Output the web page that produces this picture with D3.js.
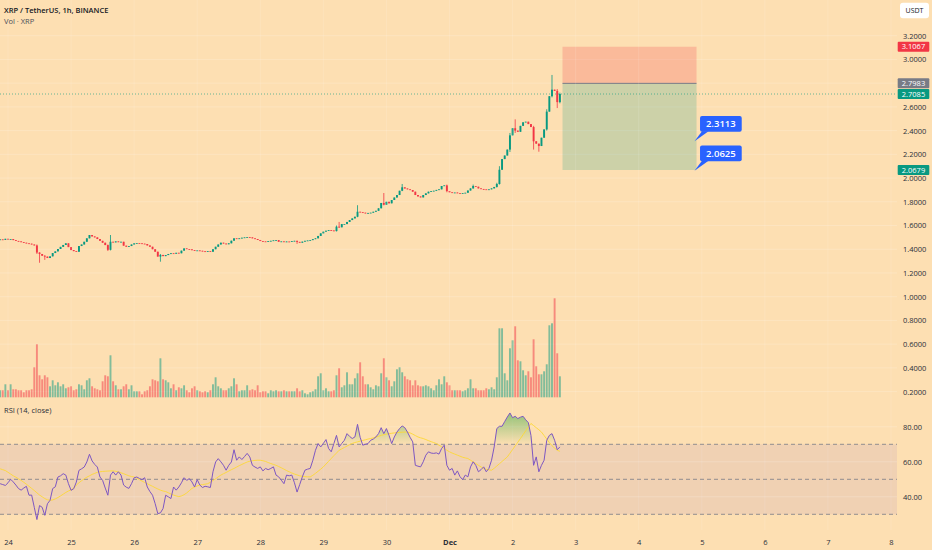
<!DOCTYPE html>
<html>
<head>
<meta charset="utf-8">
<script src="https://cdn.jsdelivr.net/npm/d3@7"></script>
<style>
body{margin:0;background:#fddfb2;}
svg{display:block;font-family:"Open Sans",sans-serif;}
</style>
</head>
<body>
<div id="chart"></div>
<script>
//XRP / TetherUS 1h candles

var firstCandle = "2024-11-23T21:00Z";
var firstOpen = 1.478;

var closes = [
	1.483,1.479,1.488,1.484,1.486,1.477,1.470,1.466,1.460,1.455,
	1.450,1.447,1.440,1.432,1.372,1.360,1.345,1.338,1.326,1.340,
	1.368,1.382,1.402,1.420,1.436,1.450,1.418,1.393,1.384,1.379,
	1.427,1.440,1.463,1.492,1.520,1.508,1.500,1.486,1.471,1.455,
	1.435,1.395,1.463,1.458,1.466,1.460,1.463,1.430,1.421,1.427,
	1.440,1.450,1.452,1.450,1.447,1.444,1.432,1.421,1.400,1.379,
	1.338,1.352,1.342,1.351,1.360,1.366,1.362,1.370,1.366,1.388,
	1.407,1.402,1.399,1.392,1.387,1.390,1.387,1.383,1.379,1.384,
	1.379,1.400,1.421,1.440,1.455,1.448,1.442,1.450,1.472,1.492,
	1.488,1.492,1.497,1.500,1.503,1.500,1.492,1.486,1.478,1.469,
	1.466,1.463,1.468,1.471,1.475,1.477,1.463,1.466,1.461,1.465,
	1.463,1.468,1.471,1.462,1.455,1.464,1.471,1.474,1.477,1.485,
	1.492,1.512,1.534,1.548,1.556,1.562,1.558,1.553,1.590,1.585,
	1.612,1.612,1.630,1.646,1.660,1.674,1.716,1.712,1.708,1.703,
	1.706,1.708,1.716,1.724,1.745,1.790,1.775,1.800,1.787,1.815,
	1.836,1.857,1.893,1.922,1.912,1.905,1.899,1.885,1.857,1.845,
	1.837,1.857,1.871,1.885,1.890,1.893,1.900,1.905,1.933,1.938,
	1.890,1.880,1.876,1.878,1.873,1.871,1.874,1.876,1.895,1.913,
	1.933,1.927,1.913,1.908,1.905,1.903,1.905,1.913,1.925,1.950,
	2.070,2.160,2.190,2.240,2.360,2.420,2.400,2.390,2.440,2.470,
	2.475,2.455,2.430,2.310,2.290,2.270,2.340,2.410,2.560,2.690,
	2.745,2.735,2.640,2.7085
];

//[candle, high, low] for the candles whose wicks stick out
var wicks = [
	[14,1.44,1.36],[15,1.375,1.286],[17,1.35,1.31],[41,1.44,1.385],[42,1.52,1.39],
	[61,1.36,1.295],[113,1.472,1.445],[128,1.60,1.55],[129,1.63,1.58],[136,1.771,1.67],
	[146,1.874,1.77],[153,1.95,1.89],[170,1.945,1.88],[180,1.945,1.91],[189,1.96,1.92],
	[190,2.10,1.945],[194,2.38,2.22],[196,2.495,2.38],[203,2.44,2.24],[205,2.29,2.222],
	[208,2.58,2.40],[210,2.869,2.68],[212,2.75,2.59],[213,2.72,2.63]
];

var volumes = [
	35,35,65,35,65,40,40,35,35,25,
	35,35,40,150,265,110,90,110,100,55,
	85,60,75,55,65,45,50,55,35,40,
	65,60,40,85,95,55,45,40,35,80,
	110,105,210,80,60,40,40,55,65,40,
	60,30,30,30,15,30,35,55,90,85,
	80,195,90,85,75,45,65,35,50,45,
	60,35,25,45,55,35,30,25,30,25,
	35,65,100,55,45,35,35,45,55,95,
	65,30,35,35,60,35,40,35,60,25,
	30,30,20,35,30,35,30,30,35,30,
	30,30,30,45,30,35,20,15,25,30,
	40,105,120,35,45,30,30,35,110,145,
	50,60,125,65,65,95,120,175,105,65,
	65,50,40,60,55,120,195,100,85,55,
	80,140,150,125,105,90,85,60,85,60,
	55,55,60,55,45,35,60,90,65,105,
	75,60,35,35,35,35,30,35,45,90,
	45,45,35,35,35,45,40,50,40,100,
	345,345,120,85,245,285,355,185,180,135,
	110,130,100,290,155,115,115,130,165,360,
	370,495,220,105
];

var rsi = [
	47.5,47,46.5,48,50,48.5,46.7,44.7,43.8,45,
	46,40.9,41,34,27,35,34,29.4,36,38,
	44.7,45.7,51.3,52,53.2,52.4,47.5,43.7,44.6,48.4,
	55.1,56,57,59.9,64.3,60.5,58.5,57,51.3,49.4,
	45,40.9,52.4,54.3,52.4,54.3,52.4,46.7,45.5,44.8,
	47.5,50.9,51.3,50.5,49.8,50.9,45.6,43,40.9,36.1,
	30.4,30.8,33.3,40.9,40,39,45.6,43.8,45.6,48,
	50.9,49.4,50.4,48.5,45.6,49.8,46.7,45.3,46,45.7,
	45.3,54.3,59.9,61.8,60,58,55.2,58,59.9,66.9,
	60.9,62.8,61.3,63,64.8,62.8,58,57,56.2,57.1,
	54.8,56.2,55.5,56.2,57.1,52.4,51.4,49.5,47.5,52.4,
	52,52.4,48,42.7,47,51.4,55.2,55.8,56.2,60.9,
	66.6,70.4,68.5,70.5,72.7,67.6,65.7,70.4,75.1,68.5,
	70.5,72.3,76.1,74.5,73.3,74.2,81.4,74,69.5,70,
	70.4,72.3,73,74.2,76.1,79.5,76.1,79,75.1,70.4,
	74.2,77,79,80.5,79.5,77,74,71.4,58,57.5,
	57.1,60,63.8,65.7,65,64.8,65.1,64.4,67.6,69.5,
	58,55.2,56.2,52.4,54.8,51.5,49.8,52.4,51.4,57.1,
	60,58,54.3,55.5,57.1,54.3,56.2,60.9,68.5,79,
	80.3,80.3,83,85.6,87.9,85.2,86,84.7,85.5,86,
	84,82.4,75.1,58,62.8,54.3,58,60.9,72.3,75.1,
	76.1,72.3,66.9,68.5
];

var rsiMa = [
	56,55.5,55,54,53,52,51.2,50.3,49.4,48.3,
	47.2,46,44.8,43.6,42.3,41,40,39,38.3,38,
	38.2,38.8,39.6,40.5,41.5,42.5,43.3,44,45,46.7,
	48,49.2,50.3,51.2,52,52.8,53.4,54,54.3,54.5,
	54.6,54.7,54.8,54.8,54.6,54.2,53.7,53.2,52.6,52,
	51.6,51.3,50.7,49.8,49,48.2,47.5,46.7,46,45.2,
	44.5,43.8,43.3,43,42.3,41.6,41,40.5,40.1,40.5,
	41.2,42.2,43.5,44.8,45.5,46.2,46.7,47,47.2,47.5,
	48.3,49.3,50.3,51.4,52.4,53.2,53.9,54.7,55.5,56.2,
	57,57.8,58.5,59.2,59.9,60.3,60.6,60.8,60.9,60.9,
	60.6,60.2,59.6,59,58.5,58,57.3,56.6,55.8,55,
	54.3,53.6,53,52.5,52,51.7,51.5,51.4,51.4,52.3,
	53.4,54.6,55.8,57.1,58.7,60.3,61.9,63.5,65,66.6,
	67.4,68.2,69,69.8,70.5,71,71.4,71.8,72.2,72.6,
	73,73.3,73.7,74.1,74.6,75.1,75.5,75.8,76.1,76.3,
	76.5,76.7,76.8,76.9,77,77,76.5,75.8,75,74.2,
	73.7,73.3,72.7,72.1,71.5,71,70.4,69.5,68.6,67.6,
	66.6,65.7,65,64.4,63.8,63.2,62.6,62.2,61.9,60.9,
	60,59,58,57.1,56.2,55.7,55.4,55.2,56.3,57.6,
	58.9,60.2,61.5,62.8,64.9,67,69.1,71.2,73.3,75.5,
	77.7,79.9,81.9,80.7,79.5,78.3,77,75,73,71,
	69.2,67.8,66.6,66
];

var priceTicks = [0.2,0.4,0.6,0.8,1.0,1.2,1.4,1.6,1.8,2.0,2.2,2.4,2.6,2.8,3.0,3.2];
var rsiTicks = [40,60,80];
var rsiLevels = [70,50,30];
var dayTicks = ["2024-11-24","2024-11-25","2024-11-26","2024-11-27","2024-11-28","2024-11-29","2024-11-30",
	"2024-12-01","2024-12-02","2024-12-03","2024-12-04","2024-12-05","2024-12-06","2024-12-07","2024-12-08"];

var position = {entry:2.7983, stop:3.1067, target:2.0679, from:"2024-12-02T19:00Z", to:"2024-12-04T22:00Z"};
var lastPrice = 2.7085;
var notes = [2.3113, 2.0625];

var up = "#089981", down = "#f23645";
var plotRight = 897;

var t0 = new Date(firstCandle).getTime();
var candles = closes.map(function(c,i){
	var o = i == 0 ? firstOpen : closes[i-1];
	return {t:new Date(t0 + i*3600000), o:o, c:c, h:Math.max(o,c), l:Math.min(o,c), v:volumes[i], r:rsi[i], m:rsiMa[i]};
});
wicks.forEach(function(w){
	var d = candles[w[0]];
	d.h = Math.max(d.h, w[1]);
	d.l = Math.min(d.l, w[2]);
});

var x = d3.scaleUtc()
	.domain([new Date("2024-11-24T00:00Z"), new Date("2024-12-08T00:00Z")])
	.range([8, 891]);
var y = d3.scaleLinear().domain([0.2, 3.2]).range([391.6, 35.7]);
var vy = d3.scaleLinear().domain([0, d3.max(volumes)]).range([397.3, 298.3]);
var ry = d3.scaleLinear().domain([30, 70]).range([514.3, 444.3]);

var svg = d3.select("#chart").append("svg")
	.attr("width", 932)
	.attr("height", 550);

svg.append("rect").attr("width", 932).attr("height", 550).attr("fill", "#fddfb2");

var defs = svg.append("defs");
defs.append("clipPath").attr("id", "mainClip")
	.append("rect").attr("x", 0).attr("y", 0).attr("width", plotRight).attr("height", 401);
defs.append("clipPath").attr("id", "rsiClip")
	.append("rect").attr("x", 0).attr("y", 401).attr("width", plotRight).attr("height", 129);

var gOb = defs.append("linearGradient").attr("id", "obFill")
	.attr("gradientUnits", "userSpaceOnUse")
	.attr("x1", 0).attr("x2", 0).attr("y1", ry(100)).attr("y2", ry(70));
gOb.append("stop").attr("offset", 0).attr("stop-color", "#4caf50").attr("stop-opacity", 1);
gOb.append("stop").attr("offset", 1).attr("stop-color", "#4caf50").attr("stop-opacity", 0);
var gOs = defs.append("linearGradient").attr("id", "osFill")
	.attr("gradientUnits", "userSpaceOnUse")
	.attr("x1", 0).attr("x2", 0).attr("y1", ry(30)).attr("y2", ry(0));
gOs.append("stop").attr("offset", 0).attr("stop-color", "#ff5252").attr("stop-opacity", 0);
gOs.append("stop").attr("offset", 1).attr("stop-color", "#ff5252").attr("stop-opacity", 1);

var days = dayTicks.map(function(d){ return new Date(d + "T00:00Z"); });

//grid
var main = svg.append("g").attr("clip-path", "url(#mainClip)");
main.selectAll(".hgrid").data(priceTicks).enter().append("line")
	.attr("x1", 0).attr("x2", plotRight)
	.attr("y1", function(d){ return y(d); }).attr("y2", function(d){ return y(d); })
	.attr("stroke", "#ffffff").attr("stroke-opacity", 0.18);
svg.selectAll(".vgrid").data(days).enter().append("line")
	.attr("x1", function(d){ return x(d); }).attr("x2", function(d){ return x(d); })
	.attr("y1", 0).attr("y2", 530)
	.attr("stroke", "#ffffff").attr("stroke-opacity", 0.12);

//rsi pane background
var rp = svg.append("g").attr("clip-path", "url(#rsiClip)");
rp.append("rect")
	.attr("x", 0).attr("width", plotRight)
	.attr("y", ry(70)).attr("height", ry(30) - ry(70))
	.attr("fill", "#7e57c2").attr("fill-opacity", 0.1);
rp.selectAll(".rgrid").data(rsiTicks).enter().append("line")
	.attr("x1", 0).attr("x2", plotRight)
	.attr("y1", function(d){ return ry(d); }).attr("y2", function(d){ return ry(d); })
	.attr("stroke", "#ffffff").attr("stroke-opacity", 0.2);
rp.selectAll(".level").data(rsiLevels).enter().append("line")
	.attr("x1", 0).attr("x2", plotRight)
	.attr("y1", function(d){ return ry(d); }).attr("y2", function(d){ return ry(d); })
	.attr("stroke", "#787b86").attr("stroke-width", 0.8)
	.attr("stroke-dasharray", "4,3");

//position box
var px0 = x(new Date(position.from)), px1 = x(new Date(position.to));
main.append("rect")
	.attr("x", px0).attr("width", px1 - px0)
	.attr("y", y(position.stop)).attr("height", y(position.entry) - y(position.stop))
	.attr("fill", down).attr("fill-opacity", 0.22);
main.append("rect")
	.attr("x", px0).attr("width", px1 - px0)
	.attr("y", y(position.entry)).attr("height", y(position.target) - y(position.entry))
	.attr("fill", up).attr("fill-opacity", 0.2);
main.append("line")
	.attr("x1", px0).attr("x2", px1)
	.attr("y1", y(position.entry)).attr("y2", y(position.entry))
	.attr("stroke", "#787b86").attr("stroke-width", 1);

//volume
main.selectAll(".vol").data(candles).enter().append("rect")
	.attr("x", function(d){ return x(d.t) - 0.95; })
	.attr("width", 1.9)
	.attr("y", function(d){ return vy(d.v); })
	.attr("height", function(d){ return vy(0) - vy(d.v); })
	.attr("fill", function(d){ return d.c >= d.o ? up : down; })
	.attr("fill-opacity", 0.5);

//candles
main.selectAll(".wick").data(candles).enter().append("line")
	.attr("x1", function(d){ return x(d.t); }).attr("x2", function(d){ return x(d.t); })
	.attr("y1", function(d){ return y(d.h); }).attr("y2", function(d){ return y(d.l); })
	.attr("stroke", function(d){ return d.c >= d.o ? up : down; })
	.attr("stroke-width", 0.8);
main.selectAll(".body").data(candles).enter().append("rect")
	.attr("x", function(d){ return x(d.t) - 0.95; })
	.attr("width", 1.9)
	.attr("y", function(d){ return y(Math.max(d.o, d.c)); })
	.attr("height", function(d){ return Math.max(0.8, Math.abs(y(d.o) - y(d.c))); })
	.attr("fill", function(d){ return d.c >= d.o ? up : down; });

//last price line
main.append("line")
	.attr("x1", 0).attr("x2", plotRight)
	.attr("y1", y(lastPrice)).attr("y2", y(lastPrice))
	.attr("stroke", up).attr("stroke-opacity", 0.6)
	.attr("stroke-dasharray", "1,2");

//rsi
rp.append("path").datum(candles)
	.attr("d", d3.area()
		.x(function(d){ return x(d.t); })
		.y0(ry(70))
		.y1(function(d){ return ry(Math.max(d.r, 70)); }))
	.attr("fill", "url(#obFill)");
rp.append("path").datum(candles)
	.attr("d", d3.area()
		.x(function(d){ return x(d.t); })
		.y0(ry(30))
		.y1(function(d){ return ry(Math.min(d.r, 30)); }))
	.attr("fill", "url(#osFill)");
rp.append("path").datum(candles)
	.attr("d", d3.line()
		.x(function(d){ return x(d.t); })
		.y(function(d){ return ry(d.m); }))
	.attr("fill", "none").attr("stroke", "#fdd835").attr("stroke-width", 0.9);
rp.append("path").datum(candles)
	.attr("d", d3.line()
		.x(function(d){ return x(d.t); })
		.y(function(d){ return ry(d.r); }))
	.attr("fill", "none").attr("stroke", "#7e57c2").attr("stroke-width", 1);

//price notes
notes.forEach(function(v){
	var tx = px1 - 2, ty = y(v);
	svg.append("path")
		.attr("d", "M" + tx + "," + ty + "L" + (tx + 7.5) + "," + (ty - 10) + "L" + (tx + 14) + "," + (ty - 10) + "Z")
		.attr("fill", "#2962ff");
	svg.append("rect")
		.attr("x", tx + 5.5).attr("y", ty - 25.2)
		.attr("width", 41.7).attr("height", 15.7)
		.attr("rx", 2)
		.attr("fill", "#2962ff");
	svg.append("text")
		.attr("x", tx + 26.3).attr("y", ty - 14)
		.attr("text-anchor", "middle")
		.attr("fill", "#fff")
		.style("font-size", "9.5px").style("font-weight", 600)
		.text(d3.format(".4f")(v));
});

//price axis
var yAxis = d3.axisRight(y)
	.tickValues(priceTicks)
	.tickSize(0)
	.tickPadding(6)
	.tickFormat(d3.format(".4f"));
var ya = svg.append("g")
	.attr("transform", "translate(" + plotRight + ",0)")
	.call(yAxis);
ya.select(".domain").remove();
ya.attr("font-family", null).attr("font-size", null);
ya.selectAll("text").attr("fill", "#2a2e39").style("font-size", "7.5px");

var rAxis = d3.axisRight(ry)
	.tickValues(rsiTicks)
	.tickSize(0)
	.tickPadding(6)
	.tickFormat(d3.format(".2f"));
var ra = svg.append("g")
	.attr("transform", "translate(" + plotRight + ",0)")
	.call(rAxis);
ra.select(".domain").remove();
ra.attr("font-family", null).attr("font-size", null);
ra.selectAll("text").attr("fill", "#2a2e39").style("font-size", "7.5px");

//price tags
var tags = [
	{v:position.stop, c:down},
	{v:position.entry, c:"#787b86"},
	{v:lastPrice, c:up},
	{v:position.target, c:up}
];
tags.forEach(function(t){
	svg.append("rect")
		.attr("x", plotRight + 0.7).attr("y", y(t.v) - 5)
		.attr("width", 31.6).attr("height", 10)
		.attr("rx", 1)
		.attr("fill", t.c);
	svg.append("text")
		.attr("x", plotRight + 16.5).attr("y", y(t.v))
		.attr("dy", "0.34em")
		.attr("text-anchor", "middle")
		.attr("fill", "#fff")
		.style("font-size", "7.5px")
		.text(d3.format(".4f")(t.v));
});

//currency button
svg.append("rect")
	.attr("x", 900).attr("y", 2.7).attr("width", 29).attr("height", 15.6)
	.attr("rx", 3)
	.attr("fill", "#ffffff");
svg.append("text")
	.attr("x", 914.5).attr("y", 13.3)
	.attr("text-anchor", "middle")
	.attr("fill", "#131722")
	.style("font-size", "7px")
	.text("USDT");

//time axis
var xAxis = d3.axisBottom(x)
	.tickValues(days)
	.tickSize(0)
	.tickPadding(8)
	.tickFormat(function(d){
		return d.getUTCDate() == 1 ? "Dec" : d.getUTCDate();
	});
var xa = svg.append("g")
	.attr("transform", "translate(0,532)")
	.call(xAxis);
xa.select(".domain").remove();
xa.attr("font-family", null).attr("font-size", null);
xa.selectAll("text")
	.attr("fill", "#2a2e39")
	.style("font-size", "7.5px")
	.style("font-weight", function(d){ return d.getUTCDate() == 1 ? 700 : 400; });

//legends
svg.append("text")
	.attr("x", 4).attr("y", 13)
	.attr("fill", "#131722")
	.style("font-size", "7.5px").style("font-weight", 600)
	.text("XRP / TetherUS, 1h, BINANCE");
svg.append("text")
	.attr("x", 4).attr("y", 24)
	.attr("fill", "#4a4e59")
	.style("font-size", "7.5px")
	.text("Vol · XRP");
svg.append("text")
	.attr("x", 4).attr("y", 412.5)
	.attr("fill", "#2a2e39")
	.style("font-size", "7.5px")
	.text("RSI (14, close)");
</script>
</body>
</html>
